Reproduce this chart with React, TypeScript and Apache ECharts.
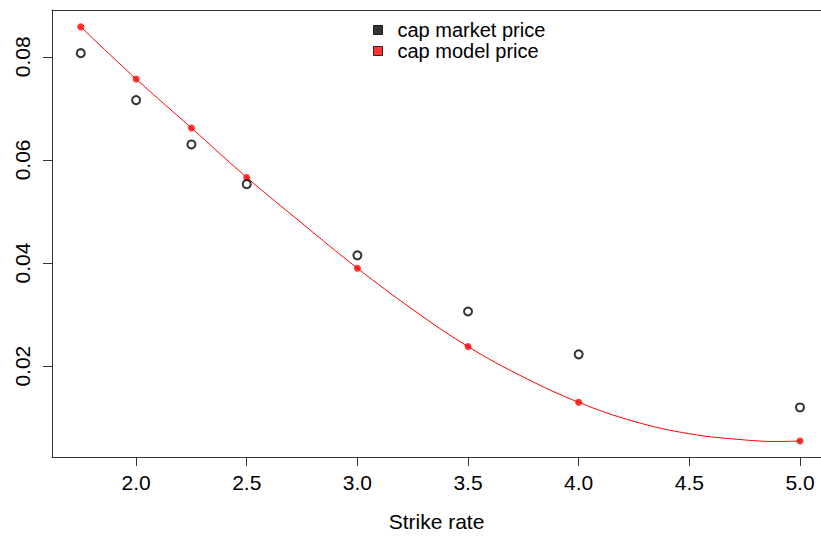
import React, { useEffect, useRef } from "react";
import * as echarts from "echarts";

const strikes = [1.75, 2.0, 2.25, 2.5, 3.0, 3.5, 4.0, 5.0];
const marketPrice = [0.0807, 0.0716, 0.063, 0.0553, 0.0415, 0.0306, 0.0223, 0.012];
const modelPrice = [0.0858, 0.0757, 0.0662, 0.0566, 0.039, 0.0238, 0.013, 0.0055];
const curveStrikes = [1.75, 2.0, 2.25, 2.5, 2.75, 3.0, 3.25, 3.5, 3.75, 4.0, 4.25, 4.5, 4.75, 4.9, 5.0];
const curvePrice = [0.0858, 0.0757, 0.0662, 0.0566, 0.0477, 0.039, 0.031, 0.0238, 0.0179, 0.013, 0.0093, 0.0069, 0.0057, 0.0054, 0.0055];
const xTicks = [2.0, 2.5, 3.0, 3.5, 4.0, 4.5, 5.0];
const yTicks = [0.02, 0.04, 0.06, 0.08];
const seriesNames = ["cap market price", "cap model price"];
const legendColors = ["#000000", "#ff0000"];
const xTitle = "Strike rate";

const FONT = "'Liberation Sans', Arial, Helvetica, sans-serif";
const AXIS_COLOR = "#333";

export default function App() {
  const ref = useRef<HTMLDivElement>(null);
  useEffect(() => {
    if (!ref.current) return;
    const chart = echarts.init(ref.current, null, { renderer: "svg" });
    const legends = seriesNames.map((name, i) => ({
      orient: "vertical",
      left: 368,
      top: 20 + i * 21,
      itemWidth: 9,
      itemHeight: 9,
      itemGap: 0,
      padding: [0, 5, 0, 5],
      textStyle: { fontSize: 20, lineHeight: 20, color: "#000", fontFamily: FONT, padding: [0, 0, 0, 10] },
      data: [{ name, icon: "rect", itemStyle: { color: legendColors[i], borderColor: "#000", borderWidth: 1 } }],
    }));
    chart.setOption({
      animation: false,
      backgroundColor: "#fff",
      textStyle: { fontFamily: FONT },
      grid: {
        left: 52,
        right: 0,
        top: 10,
        bottom: 81,
        show: false,
      },
      legend: legends,
      xAxis: [
        {
          type: "value",
          min: 1.62,
          max: 5.095,
          name: xTitle,
          nameLocation: "middle",
          nameGap: 54,
          nameTextStyle: { fontSize: 21, color: "#000", fontFamily: FONT },
          splitLine: { show: false },
          axisLine: { show: true, onZero: false, lineStyle: { color: AXIS_COLOR, width: 1 } },
          axisTick: { show: true, length: 9, customValues: xTicks, lineStyle: { color: AXIS_COLOR } },
          axisLabel: {
            customValues: xTicks,
            fontSize: 21,
            color: "#000",
            margin: 15,
            fontFamily: FONT,
            formatter: (v: number) => v.toFixed(1),
          },
        },
        {
          type: "value",
          position: "top",
          min: 1.62,
          max: 5.095,
          splitLine: { show: false },
          axisLine: { show: true, onZero: false, lineStyle: { color: AXIS_COLOR, width: 1 } },
          axisTick: { show: false },
          axisLabel: { show: false },
        },
      ],
      yAxis: {
        type: "value",
        min: 0.00239,
        max: 0.08907,
        splitLine: { show: false },
        axisLine: { show: true, onZero: false, lineStyle: { color: AXIS_COLOR, width: 1 } },
        axisTick: { show: true, length: 9, customValues: yTicks, lineStyle: { color: AXIS_COLOR } },
        axisLabel: {
          customValues: yTicks,
          fontSize: 21,
          color: "#000",
          rotate: 90,
          margin: 19,
          fontFamily: FONT,
          formatter: (v: number) => v.toFixed(2),
        },
      },
      series: [
        {
          type: "line",
          name: "curve",
          xAxisIndex: 0,
          data: curveStrikes.map((x, i) => [x, curvePrice[i]]),
          smooth: 0.4,
          showSymbol: false,
          symbol: "none",
          lineStyle: { color: "#ff0000", width: 1 },
          itemStyle: { color: "#ff0000" },
          silent: true,
          z: 2,
        },
        {
          type: "scatter",
          name: seriesNames[1],
          xAxisIndex: 0,
          data: strikes.map((x, i) => [x, modelPrice[i]]),
          symbol: "circle",
          symbolSize: 7,
          itemStyle: { color: "#ff0000" },
          z: 3,
        },
        {
          type: "scatter",
          name: seriesNames[0],
          xAxisIndex: 0,
          data: strikes.map((x, i) => [x, marketPrice[i]]),
          symbol: "circle",
          symbolSize: 8,
          itemStyle: { color: "#fff", borderColor: "#000", borderWidth: 2 },
          z: 3,
        },
      ],
    });
    return () => chart.dispose();
  }, []);
  return (
    <div
      ref={ref}
      style={{ position: "fixed", left: 0, top: 0, width: 821, height: 538 }}
    />
  );
}
